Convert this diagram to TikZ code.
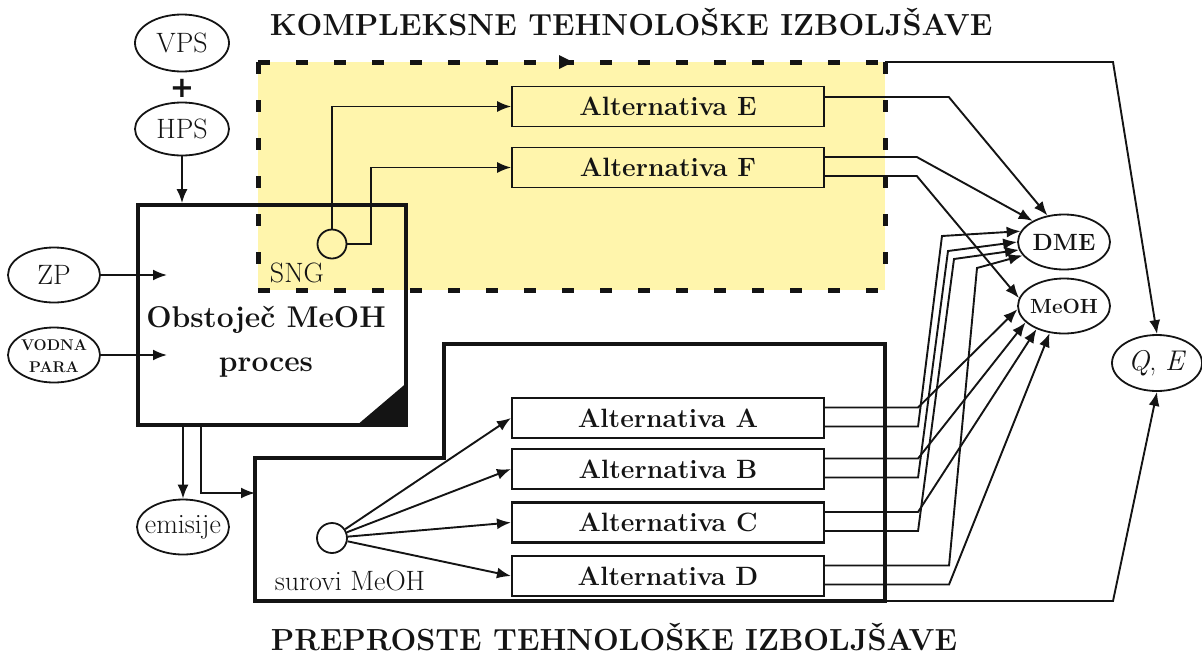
\documentclass[tikz,border=0pt]{standalone}
\usepackage{fontspec}
\newfontfamily\plusfont{DejaVu Sans}
\usetikzlibrary{arrows.meta,calc,shapes.geometric}
\definecolor{ylw}{RGB}{255,245,172}
\definecolor{ink}{RGB}{20,20,20}
\newcommand\nowidth[1]{\makebox[0pt]{#1}}
\begin{document}
\begin{tikzpicture}[x=1pt,y=-1pt,
  every node/.style={inner sep=0pt, text=ink},
  thinline/.style={line width=1.9pt, draw=ink},
  arr/.style={thinline, -{Latex[length=14pt,width=11pt]}},
  ell/.style={ellipse, draw=ink, line width=1.8pt, minimum width=92pt, minimum height=55pt},
  rm/.style={font=\fontsize{28}{33}\selectfont},
  altbox/.style={rectangle, draw=ink, line width=1.8pt, minimum width=312pt, minimum height=40pt, font=\fontsize{26.5}{32}\selectfont\bfseries},
  title/.style={font=\fontsize{30.5}{36}\selectfont\bfseries, anchor=base},
  thickbox/.style={draw=ink, line width=3.8pt, line join=miter}
]
\useasboundingbox (0,0) rectangle (1202,654);

% yellow region
\fill[ylw] (258,62) rectangle (885,290);
\draw[ink, line width=5pt, dash pattern=on 12pt off 26pt] (258,62) -- (885,62);
\draw[ink, line width=5pt, dash pattern=on 12pt off 26pt] (258,62) -- (258,290) -- (885,290);
\draw[ink, line width=5pt, dash pattern=on 12pt off 26pt] (885,62) -- (885,290);
\fill[ink] (559,55) -- (573,62) -- (559,69) -- cycle;

% titles
\node[title] (t1) at (631,35) {KOMPLEKSNE TEHNOLOŠKE IZBOLJŠAVE};
\node[title] (t2) at (614,650) {PREPROSTE TEHNOLOŠKE IZBOLJŠAVE};

% inputs
\node[ell, rm, minimum width=94pt, minimum height=57pt] (vps) at (182,43) {\nowidth{VPS}};
\node[font=\fontsize{29}{32}\plusfont\bfseries] (plus) at (182,88) {+};
\node[ell, rm, minimum width=94pt, minimum height=53pt] (hps) at (182,129) {\nowidth{HPS}};
\node[ell, rm] (zp) at (54,275) {\nowidth{ZP}};
\node[ell] (vp) at (54,355) {};
\node[font=\fontsize{15.5}{22}\selectfont\bfseries, align=center] (vptxt) at (54,356) {VODNA\\PARA};

% main process box
\node[thickbox, rectangle, minimum width=268pt, minimum height=220pt] (main) at (272,315) {};
\fill[ink] ($(main.south east)+(-53,0)$) -- (main.south east) -- ($(main.south east)+(0,-45)$) -- cycle;
\node[font=\fontsize{30}{44}\selectfont\bfseries, align=center] (mainlbl) at (266,342) {Obstoječ MeOH\\proces};

\node[ell, rm] (emis) at (183,527) {\nowidth{emisije}};

% lower region
\draw[thickbox] (255,458) -- (444,458) -- (444,344) -- (885,344) -- (885,601) -- (255,601) -- cycle;

% alternatives
\node[altbox, line width=1.6pt] (altE) at (668,106.5) {Alternativa E};
\node[altbox, line width=1.6pt] (altF) at (668,167.5) {Alternativa F};
\node[altbox, line width=2.1pt] (altA) at (668,418) {Alternativa A};
\node[altbox, line width=2.1pt] (altB) at (668,469) {Alternativa B};
\node[altbox, line width=2.1pt] (altC) at (668,522.5) {Alternativa C};
\node[altbox, line width=2.1pt] (altD) at (668,576) {Alternativa D};

% splitters
\node[circle, draw=ink, line width=1.8pt, minimum size=29pt] (sng) at (332,244) {};
\node[rm, anchor=base] (sngl) at (297,282) {SNG};
\node[circle, draw=ink, line width=1.8pt, minimum size=30pt] (smeoh) at (332,538) {};
\node[rm, anchor=base] (smeohl) at (350,590) {surovi MeOH};

% outputs
\node[ell, font=\fontsize{23.5}{28}\selectfont\bfseries] (dme) at (1064,242) {\nowidth{DME}};
\node[ell, font=\fontsize{20.5}{25}\selectfont\bfseries] (meoh) at (1064,306) {\nowidth{MeOH}};
\node[ell, minimum width=90pt, minimum height=56pt, font=\fontsize{28.5}{34}\selectfont] (qe) at (1157,363) {\nowidth{\textit{Q},\ \textit{E}}};

% coordinates
\coordinate (zpin) at (167,275);
\coordinate (vpin) at (167,355);
\coordinate (mout) at ($(main.south west)+(65,0)$);
\coordinate (lowin) at (255,493);
\coordinate (ytr) at (885,62);
\coordinate (qtop) at (1113,62);
\coordinate (lbr) at (885,601);
\coordinate (qbot) at (1113,601);

% connectors left
\draw[arr] (hps.south) -- (hps.south |- main.north);
\draw[arr] (zp.east) -- (zpin);
\draw[arr] (vp.east) -- (vpin);
\draw[arr] (main.south -| emis.north) -- (emis.north);
\draw[arr] (mout) |- (lowin);

% SNG
\draw[arr] (sng.north) |- (altE.west);
\draw[arr] (sng.east) -- ++(24,0) |- (altF.west);

% surovi MeOH
\foreach \n in {A,B,C,D} \draw[arr] (smeoh) -- (alt\n.west);

% Q,E
\draw[arr] (ytr) -- (qtop) -- (qe.north);
\draw[arr] (lbr) -- (qbot) -- (qe.south);

% right side
\draw[arr] ($(altE.east)+(0,-9.5)$) -- ++(124,0) -- (dme.122);
\draw[arr] ($(altF.east)+(0,-10.5)$) -- ++(92,0) -- (dme.146);
\draw[arr] ($(altF.east)+(0,8.5)$) -- ++(92,0) -- (meoh.170);

\draw[arr] ($(altA.east)+(0,-10.5)$) -- ++(93,0) -- (meoh.184);
\draw[arr] ($(altA.east)+(0,8.5)$) -- ++(93,0) -- (942,236) -- (dme.166);
\draw[arr] ($(altB.east)+(0,-10.5)$) -- ++(93,0) -- (meoh.203);
\draw[arr] ($(altB.east)+(0,8.5)$) -- ++(93,0) -- (948,251) -- (dme.180);
\draw[arr] ($(altC.east)+(0,-10.5)$) -- ++(93,0) -- (meoh.220);
\draw[arr] ($(altC.east)+(0,8.5)$) -- ++(93,0) -- (954,259) -- (dme.190);
\draw[arr] ($(altD.east)+(0,-10.5)$) -- ++(124,0) -- (977,268) -- (dme.198);
\draw[arr] ($(altD.east)+(0,8.5)$) -- ++(124,0) -- (meoh.242);
\end{tikzpicture}
\end{document}
